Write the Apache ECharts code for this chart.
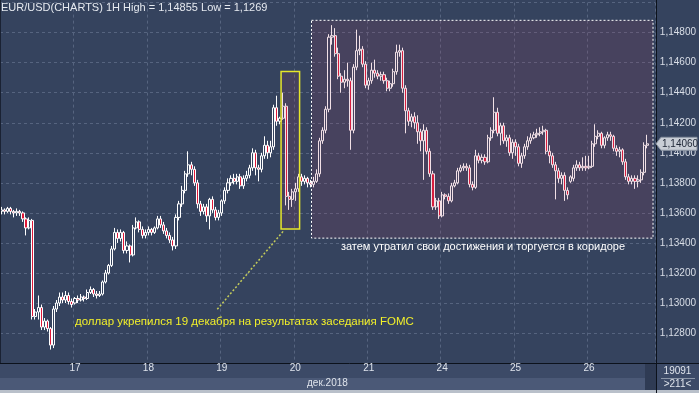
<!DOCTYPE html>
<html><head><meta charset="utf-8">
<script src="https://cdn.jsdelivr.net/npm/echarts@6/dist/echarts.min.js"></script>
<style>html,body{margin:0;padding:0;background:#35435e;}#c{width:699px;height:393px;}</style>
</head><body><div id="c"></div>
<script>
// ---- data ----
const dayLabels = ['14','17','18','19','20','21','24','25','26'];
const hoursPerDay = 24;
const yTickMin = 1.126, yTickMax = 1.150, yTickStep = 0.002;
const titleText = 'EUR/USD(CHARTS) 1H High = 1,14855 Low = 1,1269';
const monthLabel = 'дек.2018';
const noteFomc = 'доллар укрепился 19 декабря на результатах заседания FOMC';
const noteRange = 'затем утратил свои достижения и торгуется в коридоре';
const infoTop = '19091', infoBottom = '>211<';
const lastPrice = 1.14060;
// [open, close, low, high]
const candles = [
[1.1361,1.1362,1.1359,1.1364],[1.1362,1.1361,1.1359,1.1363],[1.1361,1.1363,1.1360,1.1364],[1.1363,1.1361,1.1359,1.1364],
[1.1361,1.1360,1.1357,1.1362],[1.1360,1.1361,1.1358,1.1363],[1.1361,1.1360,1.1358,1.1362],[1.1360,1.1356,1.1354,1.1361],
[1.1356,1.1350,1.1345,1.1357],[1.1350,1.1355,1.1349,1.1357],[1.1355,1.1291,1.1289,1.1356],[1.1291,1.1294,1.1289,1.1296],
[1.1294,1.1297,1.1289,1.1305],[1.1297,1.1284,1.1282,1.1299],[1.1284,1.1288,1.1282,1.1290],[1.1288,1.1283,1.1281,1.1289],
[1.1283,1.1272,1.1269,1.1284],[1.1272,1.1296,1.1270,1.1298],[1.1296,1.1300,1.1294,1.1302],[1.1300,1.1304,1.1298,1.1307],
[1.1304,1.1302,1.1300,1.1307],[1.1302,1.1305,1.1300,1.1308],[1.1305,1.1301,1.1299,1.1307],[1.1301,1.1299,1.1297,1.1303],
[1.1300,1.1303,1.1299,1.1304],[1.1303,1.1302,1.1300,1.1305],[1.1302,1.1304,1.1301,1.1306],[1.1304,1.1303,1.1301,1.1305],
[1.1303,1.1307,1.1302,1.1309],[1.1307,1.1309,1.1306,1.1311],[1.1309,1.1306,1.1304,1.1310],[1.1306,1.1305,1.1303,1.1308],
[1.1305,1.1306,1.1304,1.1308],[1.1306,1.1314,1.1305,1.1315],[1.1314,1.1320,1.1313,1.1322],[1.1320,1.1325,1.1319,1.1326],
[1.1325,1.1336,1.1324,1.1338],[1.1336,1.1347,1.1335,1.1350],[1.1347,1.1343,1.1340,1.1349],[1.1343,1.1347,1.1341,1.1349],
[1.1347,1.1335,1.1333,1.1348],[1.1335,1.1338,1.1333,1.1341],[1.1338,1.1332,1.1327,1.1339],[1.1332,1.1350,1.1331,1.1352],
[1.1350,1.1354,1.1349,1.1357],[1.1354,1.1349,1.1347,1.1355],[1.1349,1.1345,1.1343,1.1351],[1.1345,1.1347,1.1343,1.1349],
[1.1347,1.1349,1.1345,1.1351],[1.1349,1.1347,1.1345,1.1350],[1.1347,1.1350,1.1346,1.1351],[1.1350,1.1356,1.1349,1.1358],
[1.1356,1.1352,1.1350,1.1358],[1.1352,1.1348,1.1346,1.1354],[1.1348,1.1345,1.1343,1.1350],[1.1345,1.1342,1.1340,1.1347],
[1.1342,1.1338,1.1335,1.1344],[1.1338,1.1357,1.1336,1.1359],[1.1357,1.1366,1.1355,1.1368],[1.1366,1.1375,1.1364,1.1378],
[1.1375,1.1386,1.1373,1.1388],[1.1386,1.1392,1.1384,1.1401],[1.1392,1.1389,1.1385,1.1394],[1.1389,1.1380,1.1378,1.1391],
[1.1380,1.1366,1.1363,1.1382],[1.1366,1.1361,1.1358,1.1368],[1.1361,1.1364,1.1359,1.1366],[1.1364,1.1358,1.1354,1.1366],
[1.1358,1.1369,1.1349,1.1370],[1.1369,1.1362,1.1360,1.1371],[1.1362,1.1357,1.1355,1.1364],[1.1357,1.1360,1.1355,1.1362],
[1.1360,1.1368,1.1358,1.1369],[1.1368,1.1375,1.1366,1.1377],[1.1375,1.1380,1.1373,1.1383],[1.1380,1.1383,1.1378,1.1385],
[1.1383,1.1381,1.1379,1.1386],[1.1381,1.1384,1.1379,1.1386],[1.1384,1.1378,1.1376,1.1386],[1.1378,1.1383,1.1376,1.1385],
[1.1383,1.1385,1.1381,1.1388],[1.1385,1.1390,1.1383,1.1392],[1.1390,1.1400,1.1388,1.1403],[1.1400,1.1390,1.1385,1.1402],
[1.1390,1.1389,1.1381,1.1392],[1.1389,1.1398,1.1387,1.1400],[1.1398,1.1405,1.1396,1.1411],[1.1405,1.1400,1.1396,1.1408],
[1.1400,1.1404,1.1397,1.1408],[1.1404,1.1430,1.1402,1.1432],[1.1430,1.1421,1.1418,1.1438],[1.1421,1.1423,1.1419,1.1424],
[1.1423,1.1431,1.1422,1.1440],[1.1431,1.1371,1.1365,1.1433],[1.1371,1.1369,1.1362,1.1374],[1.1369,1.1374,1.1364,1.1376],
[1.1374,1.1376,1.1368,1.1380],[1.1376,1.1384,1.1374,1.1386],[1.1384,1.1381,1.1378,1.1386],[1.1381,1.1383,1.1379,1.1385],
[1.1383,1.1380,1.1377,1.1384],[1.1380,1.1379,1.1377,1.1382],[1.1379,1.1381,1.1377,1.1384],[1.1381,1.1386,1.1380,1.1389],
[1.1386,1.1408,1.1384,1.1410],[1.1408,1.1415,1.1406,1.1417],[1.1415,1.1429,1.1413,1.1431],[1.1429,1.1477,1.1427,1.1479],
[1.1477,1.1478,1.1472,1.1485],[1.1478,1.1466,1.1464,1.1483],[1.1466,1.1451,1.1449,1.1470],[1.1451,1.1447,1.1440,1.1453],
[1.1447,1.1449,1.1443,1.1455],[1.1449,1.1448,1.1444,1.1460],[1.1448,1.1415,1.1402,1.1450],[1.1415,1.1457,1.1413,1.1459],
[1.1457,1.1468,1.1455,1.1482],[1.1468,1.1469,1.1465,1.1478],[1.1469,1.1459,1.1457,1.1471],[1.1459,1.1445,1.1443,1.1461],
[1.1445,1.1448,1.1442,1.1450],[1.1448,1.1455,1.1446,1.1460],[1.1455,1.1453,1.1450,1.1462],[1.1453,1.1451,1.1449,1.1455],
[1.1451,1.1452,1.1448,1.1454],[1.1452,1.1448,1.1446,1.1454],[1.1448,1.1443,1.1441,1.1450],[1.1443,1.1446,1.1441,1.1448],
[1.1446,1.1454,1.1444,1.1456],[1.1454,1.1467,1.1452,1.1472],[1.1467,1.1468,1.1464,1.1472],[1.1468,1.1443,1.1440,1.1470],
[1.1443,1.1428,1.1413,1.1445],[1.1428,1.1421,1.1418,1.1430],[1.1421,1.1424,1.1417,1.1426],[1.1424,1.1420,1.1416,1.1427],
[1.1420,1.1414,1.1406,1.1425],[1.1414,1.1408,1.1401,1.1416],[1.1408,1.1415,1.1382,1.1419],[1.1415,1.1401,1.1399,1.1417],
[1.1401,1.1386,1.1384,1.1403],[1.1386,1.1364,1.1362,1.1388],[1.1364,1.1368,1.1362,1.1370],[1.1368,1.1358,1.1356,1.1370],
[1.1358,1.1372,1.1357,1.1374],[1.1372,1.1371,1.1369,1.1373],[1.1371,1.1368,1.1366,1.1373],[1.1368,1.1378,1.1367,1.1380],
[1.1378,1.1380,1.1377,1.1382],[1.1380,1.1388,1.1379,1.1390],[1.1388,1.1390,1.1387,1.1392],[1.1390,1.1391,1.1388,1.1393],
[1.1391,1.1390,1.1388,1.1393],[1.1390,1.1379,1.1377,1.1392],[1.1379,1.1377,1.1375,1.1381],[1.1377,1.1398,1.1376,1.1402],
[1.1398,1.1395,1.1393,1.1400],[1.1395,1.1397,1.1393,1.1399],[1.1397,1.1394,1.1392,1.1399],[1.1394,1.1410,1.1393,1.1412],
[1.1410,1.1415,1.1408,1.1417],[1.1415,1.1427,1.1413,1.1437],[1.1427,1.1413,1.1411,1.1430],[1.1413,1.1418,1.1405,1.1420],
[1.1418,1.1408,1.1406,1.1420],[1.1408,1.1410,1.1404,1.1412],[1.1410,1.1400,1.1398,1.1412],[1.1400,1.1407,1.1396,1.1409],
[1.1407,1.1404,1.1398,1.1409],[1.1404,1.1393,1.1391,1.1406],[1.1393,1.1398,1.1390,1.1400],[1.1398,1.1404,1.1396,1.1406],
[1.1404,1.1408,1.1402,1.1411],[1.1408,1.1410,1.1406,1.1413],[1.1410,1.1412,1.1409,1.1414],[1.1412,1.1413,1.1410,1.1416],
[1.1413,1.1414,1.1411,1.1417],[1.1414,1.1415,1.1412,1.1418],[1.1415,1.1401,1.1399,1.1416],[1.1401,1.1398,1.1393,1.1405],
[1.1398,1.1392,1.1390,1.1400],[1.1392,1.1388,1.1369,1.1394],[1.1388,1.1383,1.1380,1.1390],[1.1383,1.1385,1.1379,1.1387],
[1.1385,1.1375,1.1368,1.1387],[1.1375,1.1372,1.1369,1.1377],[1.1381,1.1384,1.1380,1.1385],[1.1383,1.1390,1.1381,1.1392],
[1.1390,1.1392,1.1388,1.1395],[1.1392,1.1390,1.1388,1.1394],[1.1390,1.1391,1.1388,1.1397],[1.1391,1.1390,1.1388,1.1398],
[1.1390,1.1391,1.1389,1.1398],[1.1391,1.1406,1.1390,1.1408],[1.1406,1.1411,1.1404,1.1419],[1.1411,1.1413,1.1409,1.1415],
[1.1413,1.1405,1.1403,1.1414],[1.1405,1.1410,1.1403,1.1411],[1.1410,1.1412,1.1408,1.1414],[1.1412,1.1411,1.1408,1.1414],
[1.1411,1.1403,1.1401,1.1412],[1.1403,1.1401,1.1398,1.1405],[1.1401,1.1402,1.1397,1.1404],[1.1402,1.1394,1.1392,1.1403],
[1.1394,1.1384,1.1382,1.1396],[1.1384,1.1381,1.1379,1.1386],[1.1381,1.1383,1.1379,1.1385],[1.1383,1.1381,1.1376,1.1385],
[1.1381,1.1382,1.1377,1.1385],[1.1382,1.1387,1.1380,1.1389],[1.1387,1.1405,1.1385,1.1407],[1.1405,1.1406,1.1403,1.1412]
];
// annotation anchors in data space: [categoryIndex, price]
const fomcBox = {from:[91.35, 1.14541], to:[97.4, 1.13492]};
const rangeBox = {from:[101.3, 1.14882], to:[212.9, 1.13432]};
const leader = {from:[70.5, 1.12958], to:[92.3, 1.13484]};
const fomcTextAt = [24, 1.12872];
const rangeTextAt = [110.9, 1.13373];

// ---- build ----
const categories = [];
dayLabels.forEach(d => { for (let h = 0; h < hoursPerDay; h++) categories.push(d + ' ' + h); });
const isDayStart = (i) => i > 0 && i % hoursPerDay === 0;

const BG = '#35435e';
const FONT = "'Liberation Sans Narrow','Liberation Sans',Arial,sans-serif";
const chart = echarts.init(document.getElementById('c'), null, {renderer: 'canvas'});

const option = {
  backgroundColor: BG,
  animation: false,
  title: {text: titleText, left: 1, top: 2, padding: 0,
    textStyle: {fontSize: 11, fontWeight: 'normal', color: '#e6eaf0', fontFamily: FONT}},
  grid: {left: -1, right: 43, top: 2.6, bottom: 25.6, containLabel: false},
  xAxis: [
    {type: 'category', data: categories, max: 213, boundaryGap: true, z: 0,
     axisLine: {show: false}, axisTick: {show: false}, axisLabel: {show: false},
     splitLine: {show: true, interval: (i) => isDayStart(i), lineStyle: {color: '#56647f', type: [3, 3], width: 1}}},
    {type: 'category', data: categories, max: 213, boundaryGap: true, position: 'bottom', z: 10,
     axisLine: {show: false}, axisTick: {show: false}, splitLine: {show: false},
     axisLabel: {show: true, interval: (i) => isDayStart(i), formatter: (v) => v.split(' ')[0],
       margin: 0, color: '#dfe4ec', fontSize: 10, fontFamily: FONT},
     name: monthLabel, nameLocation: 'middle', nameGap: 10,
     nameTextStyle: {color: '#dfe4ec', fontSize: 10, fontFamily: FONT}}
  ],
  yAxis: {type: 'value', position: 'right', min: yTickMin, max: yTickMax, interval: yTickStep, scale: true,
    axisLine: {show: false}, axisTick: {show: false},
    splitLine: {show: true, lineStyle: {color: '#56647f', type: [3, 3], width: 1}},
    axisLabel: {margin: 5, color: '#d9dee7', fontSize: 10, fontFamily: FONT,
      formatter: (v) => (v < yTickMin + yTickStep / 2 || v > yTickMax - yTickStep / 2) ? '' : v.toFixed(5).replace('.', ',')}},
  series: [{
    type: 'candlestick', xAxisIndex: 0, yAxisIndex: 0, data: candles, barWidth: 2.6,
    itemStyle: {color: BG, color0: '#e01838', borderColor: '#ffffff', borderColor0: '#ffffff', borderWidth: 1},
    emphasis: {disabled: true}
  }]
};
chart.setOption(option);

// graphics anchored to data coordinates
const p0 = chart.convertToPixel({seriesIndex: 0}, [0, yTickMin]);
const p1 = chart.convertToPixel({seriesIndex: 0}, [1, yTickMax]);
const step = p1[0] - p0[0];
const xAt = (i) => p0[0] + step * i;
const yAt = (v) => chart.convertToPixel({seriesIndex: 0}, [0, v])[1];
const P = (a) => [xAt(a[0]), yAt(a[1])];
const rectOf = (b) => { const a = P(b.from), c = P(b.to); return {x: a[0], y: a[1], width: c[0] - a[0], height: c[1] - a[1]}; };

const W = chart.getWidth(), H = chart.getHeight();
const gridRight = W - 43;
const axisY = 363;
const tagY = yAt(lastPrice);
const OVER = 'rgba(170,60,100,0.16)';

const g = [
  {type: 'rect', shape: rectOf(rangeBox), z: 20, style: {fill: OVER, stroke: '#ffffff', lineWidth: 1, lineDash: [2, 2]}},
  {type: 'rect', shape: rectOf(fomcBox), z: 21, style: {fill: OVER, stroke: '#e6e62a', lineWidth: 1.5}},
  {type: 'line', shape: {x1: P(leader.from)[0], y1: P(leader.from)[1], x2: P(leader.to)[0], y2: P(leader.to)[1]}, z: 21,
   style: {stroke: '#c4cc5a', lineWidth: 1.5, lineDash: [2, 2]}},
  {type: 'text', x: P(fomcTextAt)[0], y: P(fomcTextAt)[1], z: 22,
   style: {text: noteFomc, fill: '#f2f02a', font: "11.5px 'Liberation Sans',Arial,sans-serif", verticalAlign: 'middle', align: 'left'}},
  {type: 'text', x: P(rangeTextAt)[0], y: P(rangeTextAt)[1], z: 22,
   style: {text: noteRange, fill: '#ffffff', font: "11px 'Liberation Sans',Arial,sans-serif", verticalAlign: 'middle', align: 'left'}},
  // left frame line
  {type: 'line', shape: {x1: 0.5, y1: 0, x2: 0.5, y2: 363}, z: 6, style: {stroke: '#1a2233', lineWidth: 1}},
  // bottom band
  {type: 'rect', shape: {x: 0, y: axisY, width: gridRight, height: H - axisY}, z: 5, style: {fill: '#3c4a67'}},
  {type: 'rect', shape: {x: 0, y: 378, width: gridRight - 11, height: 12}, z: 5, style: {fill: '#4b5977'}},
  {type: 'rect', shape: {x: gridRight - 11, y: axisY, width: 11, height: H - axisY}, z: 5, style: {fill: '#2f3b54'}},
  {type: 'rect', shape: {x: gridRight, y: axisY, width: W - gridRight, height: H - axisY}, z: 5, style: {fill: '#3c4a67'}},
  {type: 'rect', shape: {x: 0, y: H - 3, width: W, height: 3}, z: 6, style: {fill: '#b9c0ca'}},
  {type: 'line', shape: {x1: 0, y1: axisY + 0.5, x2: W, y2: axisY + 0.5}, z: 6, style: {stroke: '#0c121c', lineWidth: 1}},
  {type: 'line', shape: {x1: gridRight + 0.5, y1: 0, x2: gridRight + 0.5, y2: H}, z: 6, style: {stroke: '#0c121c', lineWidth: 1}},
  {type: 'line', shape: {x1: gridRight + 5, y1: 378.5, x2: W - 4, y2: 378.5}, z: 6, style: {stroke: '#8b96a8', lineWidth: 1}},
  {type: 'text', x: (gridRight + W) / 2, y: 371, z: 7, style: {text: infoTop, fill: '#dfe4ec', font: "10px " + FONT, align: 'center', verticalAlign: 'middle'}},
  {type: 'text', x: (gridRight + W) / 2, y: 384, z: 7, style: {text: infoBottom, fill: '#dfe4ec', font: "10px " + FONT, align: 'center', verticalAlign: 'middle'}},
  // last price tag
  {type: 'polygon', z: 8, shape: {points: [[gridRight, tagY], [gridRight + 5, tagY - 6.5], [W - 2, tagY - 6.5], [W - 2, tagY + 6.5], [gridRight + 5, tagY + 6.5]]},
   style: {fill: '#c9ced6', stroke: '#8d96a4', lineWidth: 1}},
  {type: 'text', x: gridRight + 6, y: tagY, z: 9, style: {text: lastPrice.toFixed(5).replace('.', ','), fill: '#1e2636', font: "10px " + FONT, verticalAlign: 'middle'}}
];
chart.setOption({graphic: g});
</script>
</body></html>
